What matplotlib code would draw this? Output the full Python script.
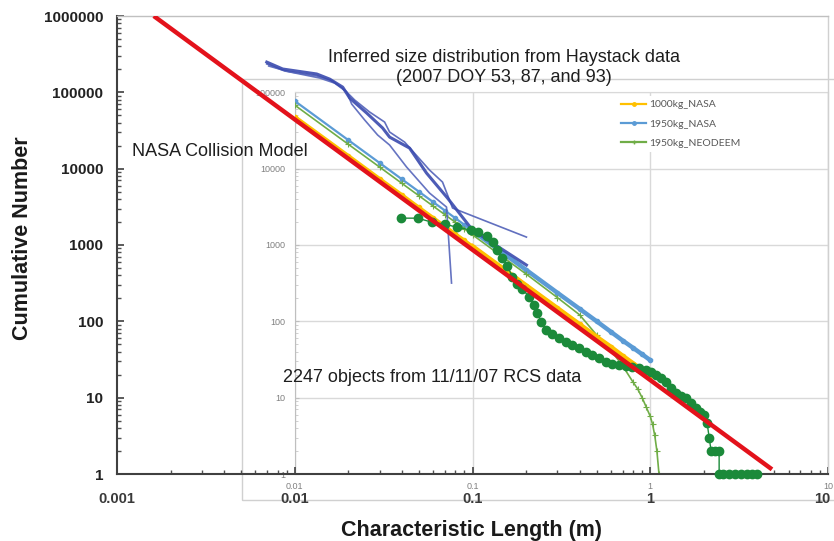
import matplotlib
matplotlib.use('Agg')
import matplotlib.pyplot as plt
import matplotlib.transforms as mtransforms
from matplotlib.lines import Line2D
from matplotlib.patches import Rectangle
from matplotlib.ticker import LogLocator, FixedLocator, FixedFormatter, NullFormatter

plt.rcParams['font.family'] = ['Liberation Sans', 'DejaVu Sans']

# ---------------- data ----------------
# NASA collision (breakup) model, main chart
nasa_x = [0.00161, 0.01, 0.1, 1.0, 4.84]
nasa_y = [1.0e6, 44200, 866, 17.0, 1.15]

# inset model curves
model_x = [0.01, 0.02, 0.03, 0.04, 0.05, 0.06, 0.07, 0.08, 0.09, 0.1,
           0.15, 0.2, 0.3, 0.4, 0.5, 0.6, 0.7, 0.8, 0.9, 1.0]
y_1000kg_nasa = [48000, 14800, 7400, 4550, 3100, 2280, 1750, 1400, 1150, 955,
                 480, 294, 148, 91, 62, 46, 35, 28, 23, 19]
y_1950kg_nasa = [77000, 23700, 11900, 7290, 4990, 3660, 2820, 2250, 1840, 1540,
                 771, 473, 237, 146, 100, 73, 56, 45, 37, 31]
neodeem_x = [0.01, 0.02, 0.03, 0.04, 0.05, 0.06, 0.07, 0.08, 0.09, 0.1,
             0.15, 0.2, 0.3, 0.4, 0.5, 0.6, 0.7, 0.8, 0.85, 0.9, 0.95, 1.0,
             1.03, 1.06, 1.09, 1.12]
y_1950kg_neodeem = [68000, 20900, 10500, 6440, 4410, 3240, 2490, 1990, 1630, 1360,
                    680, 418, 205, 122, 66, 42, 26, 16, 13, 10, 7.5, 5.7,
                    4.5, 3.2, 2.0, 1.0]
legend_labels = ['1000kg_NASA', '1950kg_NASA', '1950kg_NEODEEM']

# Haystack inferred size distributions (3 passes)
hay_a_x = [0.00696, 0.00856, 0.01329, 0.01573, 0.01861, 0.02037, 0.02538, 0.03121,
           0.03417, 0.04426, 0.05514, 0.07236, 0.1, 0.2011]
hay_a_y = [249000, 202000, 174000, 149000, 117000, 84200, 53600, 34100,
           25900, 18600, 8750, 4120, 1570, 546]
hay_b_x = [0.00696, 0.00879, 0.01329, 0.01635, 0.01910, 0.02173, 0.02638, 0.03203,
           0.03417, 0.04150, 0.05732, 0.06783, 0.07425, 0.07720, 0.2011]
hay_b_y = [235000, 190000, 164000, 141000, 107000, 79300, 55200, 40800,
           30200, 22300, 9590, 6670, 3880, 3050, 1270]
hay_c_x = [0.00714, 0.00937, 0.01382, 0.01677, 0.01960, 0.02090, 0.02474, 0.02926,
           0.03417, 0.04258, 0.05732, 0.07143, 0.07621]
hay_c_y = [221000, 185000, 154000, 132000, 101000, 70300, 43400, 27600,
           20400, 10500, 4790, 3140, 317]

# 2247 objects from 11/11/07 RCS data (cumulative)
rcs_x = [0.0394, 0.0491, 0.0589, 0.0696, 0.0813, 0.0987, 0.1067, 0.1199, 0.1296, 0.1382,
         0.1474, 0.1573, 0.1678, 0.1790, 0.1910, 0.2090, 0.2230, 0.2318, 0.2441, 0.2604,
         0.2815, 0.3082, 0.3374, 0.3647, 0.3992, 0.4370, 0.4724, 0.5171, 0.5660, 0.6118,
         0.6697, 0.7332, 0.7925, 0.8676, 0.9495, 1.013, 1.081, 1.153, 1.230, 1.312,
         1.400, 1.494, 1.593, 1.700, 1.813, 1.910, 2.011, 2.090, 2.145, 2.201,
         2.318, 2.441, 2.441, 2.571, 2.779, 3.003, 3.246, 3.508, 3.741, 3.991]
rcs_y = [2247, 2247, 1995, 1878, 1716, 1567, 1476, 1308, 1091, 857,
         673, 529, 380, 307, 264, 208, 163, 128, 97.6, 76.7,
         68.0, 60.2, 53.4, 48.8, 44.5, 39.5, 36.1, 32.9, 29.2, 27.5,
         26.7, 25.9, 25.1, 24.3, 22.9, 21.6, 19.7, 18.0, 16.0, 13.3,
         11.5, 10.5, 9.85, 8.46, 7.29, 6.46, 5.9, 4.63, 3.0, 2,
         2, 2, 1, 1, 1, 1, 1, 1, 1, 1]

main_xticks = [0.001, 0.01, 0.1, 1, 10]
main_xlabels = ['0.001', '0.01', '0.1', '1', '10']
main_yticks = [1, 10, 100, 1000, 10000, 100000, 1000000]
main_ylabels = ['1', '10', '100', '1000', '10000', '100000', '1000000']
inset_xticks = [0.01, 0.1, 1, 10]
inset_xlabels = ['0.01', '0.1', '1', '10']
inset_yticks = [1, 10, 100, 1000, 10000, 100000]
inset_ylabels = ['1', '10', '100', '1000', '10000', '100000']

# ---------------- figure ----------------
W, H = 834, 541
fig = plt.figure(figsize=(W / 100, H / 100), dpi=100)
fig.patch.set_facecolor('white')

L, R, T, B = 117, 828, 16, 474
ax = fig.add_axes([L / W, (H - B) / H, (R - L) / W, (B - T) / H])
ax.set_xscale('log'); ax.set_yscale('log')
ax.set_xlim(0.001, 10); ax.set_ylim(1, 1e6)
ax.patch.set_visible(False)
ax.set_zorder(2)

pos = ax.get_position()
ax2 = fig.add_axes([pos.x0 + pos.width * 0.25, pos.y0, pos.width * 0.75, pos.height * 5 / 6])
ax2.set_xscale('log'); ax2.set_yscale('log')
ax2.set_xlim(0.01, 10); ax2.set_ylim(1, 1e5)
ax2.patch.set_visible(False)
ax2.set_zorder(1)

# outer inset chart-area frame
rect = Rectangle((242 / W, (H - 500) / H), (W + 10 - 242) / W, (500 - 79) / H,
                 transform=fig.transFigure, facecolor='none', edgecolor='#d0d0d0',
                 lw=1.0, zorder=-1)
fig.patches.append(rect)

# ---- inset (model curves) ----
gold, blue, green = '#FFC000', '#5B9BD5', '#70AD47'
ax2.grid(True, which='major', color='#d9d9d9', lw=1.0)
ax2.set_axisbelow(True)
ax2.plot(model_x, y_1950kg_nasa, color=blue, lw=1.6, marker='o', ms=3, zorder=3)
ax2.plot(model_x[9:], y_1950kg_nasa[9:], color=blue, lw=3.2, zorder=3)
ax2.plot(neodeem_x, y_1950kg_neodeem, color=green, lw=1.2, marker='+', ms=4, mew=0.8, zorder=3)
ax2.plot(model_x, y_1000kg_nasa, color=gold, lw=2.6, marker='o', ms=3, zorder=4)
ax2.plot(model_x[9:], y_1000kg_nasa[9:], color=gold, lw=3.6, zorder=4)

ax2.spines['left'].set_color('#bfbfbf')
for s in ['top', 'right']:
    ax2.spines[s].set_color('#d9d9d9')
ax2.spines['bottom'].set_visible(False)
ax2.xaxis.set_major_locator(FixedLocator(inset_xticks))
ax2.xaxis.set_major_formatter(FixedFormatter(inset_xlabels))
ax2.xaxis.set_minor_locator(LogLocator(base=10, subs=range(2, 10)))
ax2.xaxis.set_minor_formatter(NullFormatter())
ax2.yaxis.set_major_locator(FixedLocator(inset_yticks))
ax2.yaxis.set_major_formatter(FixedFormatter(inset_ylabels))
ax2.yaxis.set_minor_locator(LogLocator(base=10, subs=range(2, 10)))
ax2.yaxis.set_minor_formatter(NullFormatter())
ax2.tick_params(axis='x', which='both', length=0, pad=6, labelsize=6.5, labelcolor='#808080')
ax2.tick_params(axis='y', which='major', direction='in', length=3, color='#bfbfbf',
                pad=7, labelsize=6.5, labelcolor='#808080')
ax2.tick_params(axis='y', which='minor', direction='in', length=2, color='#c8c8c8')

handles = [Line2D([], [], color=gold, lw=1.6, marker='o', ms=2.5),
           Line2D([], [], color=blue, lw=1.6, marker='o', ms=2.5),
           Line2D([], [], color=green, lw=1.6, marker='+', ms=3)]
leg = ax2.legend(handles, legend_labels, loc='upper left',
                 bbox_to_anchor=(617 / W, 1 - 96 / H), bbox_transform=fig.transFigure,
                 frameon=True, facecolor='white', edgecolor='none', framealpha=1,
                 fontsize=7.5, handlelength=2.4, handletextpad=0.25,
                 labelspacing=0.95, borderpad=0.4, borderaxespad=0)
for t in leg.get_texts():
    t.set_color('#595959')
    t.set_family(['Lato', 'DejaVu Sans'])

# ---- main chart ----
hay_col = '#3a4aae'
ax.plot(hay_b_x, hay_b_y, color='#5060b8', lw=1.2, alpha=0.9, zorder=3)
ax.plot(hay_c_x, hay_c_y, color='#5565bb', lw=1.2, alpha=0.9, zorder=3)
ax.plot(hay_a_x, hay_a_y, color=hay_col, lw=2.2, alpha=0.9, zorder=3)
ax.plot(rcs_x, rcs_y, color='#1b8a3a', lw=1.0, marker='o', ms=6, mec='#1b8a3a',
        mfc='#1b8a3a', zorder=4, clip_on=False)
ax.plot(nasa_x, nasa_y, color='#e3121b', lw=3.2, zorder=5, solid_capstyle='butt')

ax.spines['left'].set_color('#404040'); ax.spines['left'].set_linewidth(1.5)
ax.spines['bottom'].set_color('#404040'); ax.spines['bottom'].set_linewidth(1.5)
ax.spines['top'].set_color('#c0c0c0'); ax.spines['top'].set_linewidth(1.0)
ax.spines['right'].set_color('#d0d0d0'); ax.spines['right'].set_linewidth(1.0)

ax.xaxis.set_major_locator(FixedLocator(main_xticks))
ax.xaxis.set_major_formatter(FixedFormatter(main_xlabels))
ax.xaxis.set_minor_locator(LogLocator(base=10, subs=range(2, 10)))
ax.xaxis.set_minor_formatter(NullFormatter())
ax.yaxis.set_major_locator(FixedLocator(main_yticks))
ax.yaxis.set_major_formatter(FixedFormatter(main_ylabels))
ax.yaxis.set_minor_locator(LogLocator(base=10, subs=range(2, 10)))
ax.yaxis.set_minor_formatter(NullFormatter())
ax.tick_params(axis='both', which='major', direction='in', length=5, width=1.2, color='#404040')
ax.tick_params(axis='both', which='minor', direction='in', length=3, width=1.0, color='#505050')
ax.tick_params(axis='x', which='major', pad=13, labelsize=10.5, labelcolor='#3a3a3a')
ax.tick_params(axis='y', which='major', pad=10, labelsize=11, labelcolor='#222222')
for lab in ax.get_xticklabels() + ax.get_yticklabels():
    lab.set_fontweight('bold')
# keep the right-most x label inside the figure edge
last = ax.get_xticklabels()[-1]
last.set_transform(last.get_transform() +
                   mtransforms.ScaledTranslation(-6 / 100, 0, fig.dpi_scale_trans))

# ---- texts ----
txt_col = '#1e1e1e'
fig.text(504 / W, 1 - 58 / H, 'Inferred size distribution from Haystack data',
         ha='center', va='center', fontsize=13, color=txt_col)
fig.text(504 / W, 1 - 78 / H, '(2007 DOY 53, 87, and 93)',
         ha='center', va='center', fontsize=13, color=txt_col)
fig.text(132 / W, 1 - 152 / H, 'NASA Collision Model',
         ha='left', va='center', fontsize=13, color=txt_col)
fig.text(283 / W, 1 - 378 / H, '2247 objects from 11/11/07 RCS data',
         ha='left', va='center', fontsize=13, color=txt_col, zorder=10)
fig.text(471 / W, 1 - 536 / H, 'Characteristic Length (m)',
         ha='center', va='baseline', fontsize=15.5, fontweight='bold', color='#1a1a1a')
fig.text(23 / W, 1 - 238 / H, 'Cumulative Number', rotation=90,
         ha='center', va='center', fontsize=15.5, fontweight='bold', color='#1a1a1a')

fig.savefig('out.png', dpi=100, facecolor='white')
